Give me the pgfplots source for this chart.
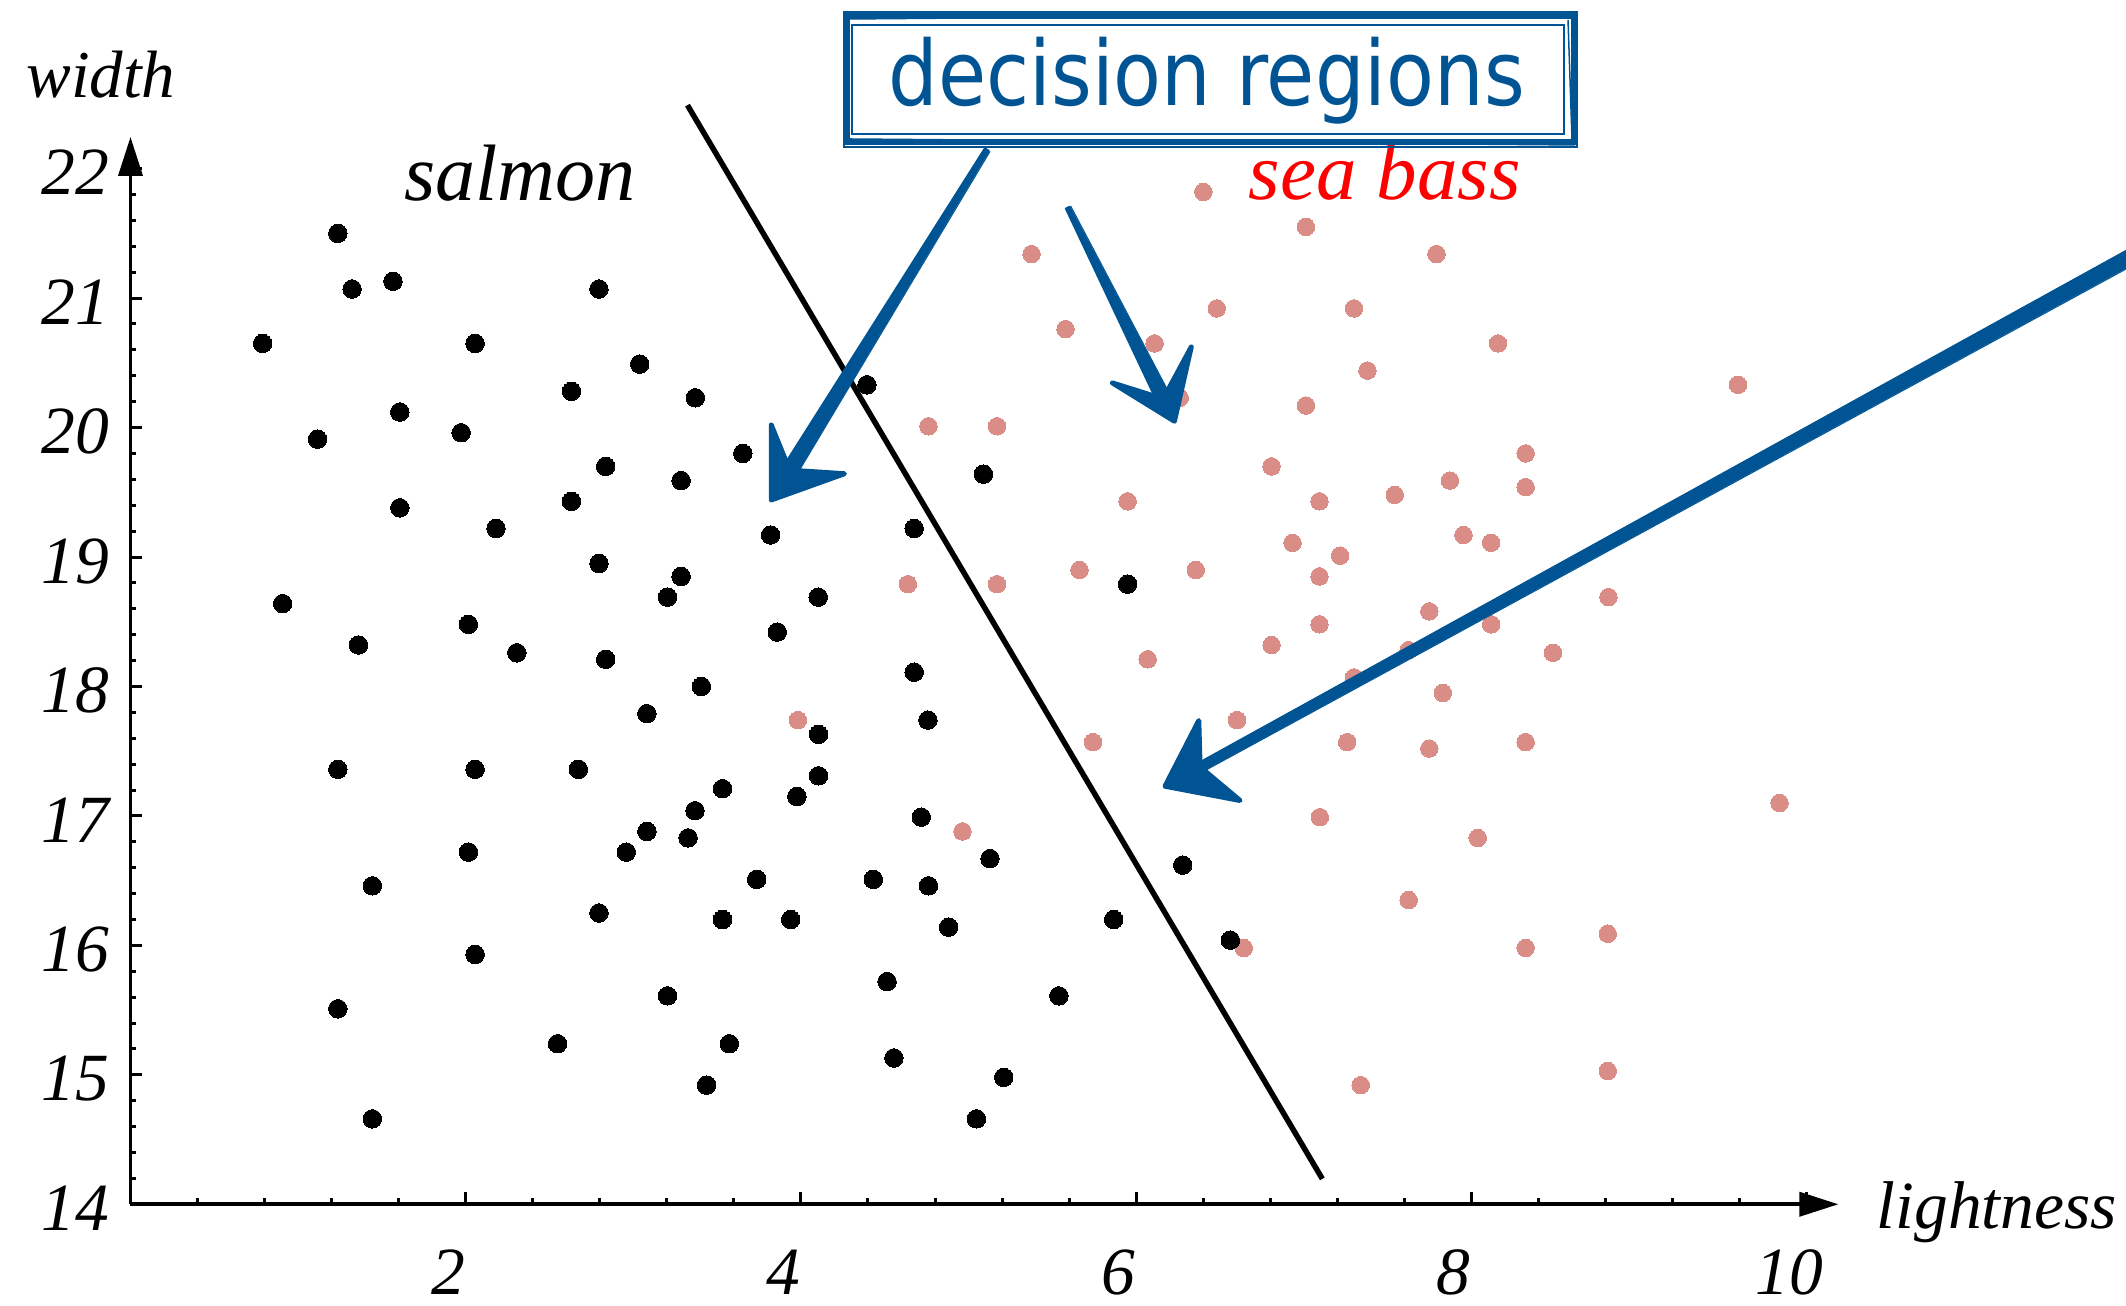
\documentclass[border=0pt]{standalone}
\usepackage{fontspec}
\setmainfont{Liberation Serif}
\newfontfamily\boxfont{DejaVu Sans}
\usepackage{pgfplots}
\usepackage{pgfplotstable}
\pgfplotsset{compat=1.18}
\usetikzlibrary{arrows.meta,calc}

\definecolor{bassdot}{RGB}{218,140,135}
\definecolor{annblue}{RGB}{0,84,147}

% salmon samples: lightness, width
\pgfplotstableread{
x y
1.237 21.50
1.322 21.07
1.566 21.13
2.795 21.07
0.788 20.65
2.056 20.65
3.038 20.49
2.631 20.28
3.370 20.23
1.607 20.12
1.116 19.91
1.973 19.96
2.835 19.70
3.285 19.59
2.631 19.43
1.607 19.38
2.181 19.22
2.795 18.95
3.285 18.85
3.204 18.69
0.908 18.64
2.016 18.48
1.360 18.32
2.305 18.26
2.835 18.21
3.406 18.00
3.081 17.79
4.394 20.33
3.653 19.80
5.089 19.64
3.819 19.17
4.676 19.22
5.949 18.79
4.103 18.69
3.859 18.42
4.676 18.11
4.758 17.74
1.237 17.36
2.056 17.36
2.672 17.36
3.368 17.04
3.081 16.88
3.327 16.83
2.016 16.72
2.958 16.72
1.443 16.46
2.795 16.25
2.056 15.93
3.204 15.61
1.237 15.51
2.548 15.24
3.437 14.92
1.443 14.66
4.105 17.63
4.105 17.31
3.532 17.21
3.976 17.15
4.718 16.99
5.128 16.67
6.278 16.62
3.736 16.51
4.432 16.51
4.761 16.46
3.532 16.20
3.939 16.20
5.866 16.20
4.881 16.14
6.562 16.04
4.514 15.72
5.539 15.61
3.573 15.24
4.555 15.13
5.210 14.98
5.047 14.66
}\salmontable

% sea bass samples: lightness, width
\pgfplotstableread{
x y
6.401 21.82
5.376 21.34
6.481 20.92
5.579 20.76
6.110 20.65
6.260 20.23
4.761 20.01
5.170 20.01
6.808 19.70
5.949 19.43
4.638 18.79
5.170 18.79
5.662 18.90
6.356 18.90
6.808 18.32
6.069 18.21
3.982 17.74
6.602 17.74
7.013 21.55
7.792 21.34
7.300 20.92
8.159 20.65
7.380 20.44
9.591 20.33
7.013 20.17
8.324 19.80
7.872 19.59
8.324 19.54
7.543 19.48
7.094 19.43
7.953 19.17
8.118 19.11
6.933 19.11
7.217 19.01
7.094 18.85
8.818 18.69
7.749 18.58
7.094 18.48
8.118 18.48
8.487 18.26
7.300 18.07
7.830 17.95
7.626 18.28
5.743 17.57
4.964 16.88
6.642 15.98
7.259 17.57
7.749 17.52
8.324 17.57
9.839 17.10
7.096 16.99
8.038 16.83
7.626 16.35
8.324 15.98
8.814 16.09
7.340 14.92
8.814 15.03
}\basstable

% hand-drawn style arrow: start, tip, barb a, barb b,
% half width at start, half width near head, notch depth, shaft end distance
\newcommand{\sketcharrow}[8]{%
  \coordinate (sa-S) at (#1);
  \coordinate (sa-T) at (#2);
  \coordinate (sa-E) at ($(sa-T)!#8!(sa-S)$);
  \filldraw[annblue, line width=0.3pt, line join=round]
    ($(sa-S)!#5!90:(sa-T)$) -- ($(sa-E)!#6!-90:(sa-S)$)
    -- ($(sa-E)!#6!90:(sa-S)$) -- ($(sa-S)!#5!-90:(sa-T)$) -- cycle;
  \draw[annblue, line width=0.2pt]
    ($(sa-S)!#5+0.25pt!90:(sa-T)$) -- ($(sa-E)!#6+0.2pt!-90:(sa-S)$);
  \filldraw[annblue, line width=1pt, line join=round]
    (sa-T) -- (#3) -- ($(sa-T)!#7!(sa-S)$) -- (#4) -- cycle;
}

\begin{document}
\begin{tikzpicture}
\begin{axis}[
  x=33.52pt, y=25.89pt,
  xmin=0, xmax=10.19, ymin=14, ymax=22.245,
  axis lines=left,
  axis line style={line width=0.75pt, -{Triangle[length=7.8pt,width=4.8pt]}},
  tick align=inside,
  xtick={0,2,4,6,8,10}, xticklabels={,2,4,6,8,10},
  ytick={14,15,...,22},
  minor x tick num=4, minor y tick num=4,
  major tick length=2.4pt, minor tick length=1.2pt,
  every tick/.style={black, line width=0.6pt},
  /pgf/number format/assume math mode=true,
  tick label style={font=\fontsize{13.5}{16}\selectfont\itshape},
  xticklabel style={yshift=-5.6pt, xshift=-3.5pt},
  yticklabel style={xshift=-0.8pt, yshift=-0.8pt},
  clip=false,
]
\addplot[only marks, mark=*, mark size=1.75pt, color=bassdot,
  mark options={draw=bassdot, fill=bassdot, line width=0pt}] table {\basstable};
\addplot[only marks, mark=*, mark size=1.85pt, color=black,
  mark options={draw=black, fill=black, line width=0pt}] table {\salmontable};

% decision boundary
\addplot[black, line width=1.1pt] coordinates {(3.323,22.49) (7.111,14.196)};

\node[font=\fontsize{13.4}{16}\selectfont\itshape, anchor=base, inner sep=0pt]
  at (axis cs:-0.176,22.546) {width};
\node[font=\fontsize{13.5}{16}\selectfont\itshape, anchor=base west, inner sep=0pt]
  at (axis cs:10.414,13.809) {lightness};
\node[font=\fontsize{16}{19}\selectfont\itshape, anchor=base, inner sep=0pt]
  at (axis cs:2.324,21.751) {salmon};
\node[font=\fontsize{16.2}{19}\selectfont\itshape, text=red, anchor=base, inner sep=0pt]
  at (axis cs:7.483,21.758) {sea bass};
\node[font=\boxfont\fontsize{18}{21}\selectfont, text=annblue, anchor=base, inner sep=0pt]
  at (axis cs:6.421,22.486) {\scalebox{0.87}[1]{decision regions}};

\coordinate (pxO) at (axis cs:-0.7786,23.303);
\coordinate (bbSE) at (axis cs:11.906,13.2144);
\end{axis}

% annotation layer, one unit = one pixel of a 2126 x 1306 frame
\begin{scope}[shift={(pxO)}, x=0.2pt, y=-0.2pt]
  \draw[annblue, line width=1.3pt] (847,15.5) rectangle (1574,142);
  \draw[annblue, line width=0.5pt] (852,25) rectangle (1564,134);
  \draw[annblue, line width=0.35pt] (844,12) rectangle (1577,147);
  \draw[annblue, line width=0.3pt] (850,19) -- (1570,13);
  \draw[annblue, line width=0.3pt] (848,139) -- (1575,145);
  \draw[annblue, line width=0.3pt] (1568,20) -- (1572,140);

  \sketcharrow{986.9,149.4}{771.25,500}{771.25,425}{844.4,473.75}{0.5pt}{1.5pt}{7pt}{7pt}
  \sketcharrow{1067.5,207.5}{1174.4,421.25}{1191.25,347}{1112.5,383}{0.45pt}{1.4pt}{5pt}{5pt}
  \sketcharrow{2140,251.5}{1165,786.25}{1198.75,720.6}{1240,800.5}{1.5pt}{0.9pt}{8pt}{8pt}
\end{scope}

\pgfresetboundingbox
\useasboundingbox (pxO) rectangle (bbSE);
\end{tikzpicture}
\end{document}
